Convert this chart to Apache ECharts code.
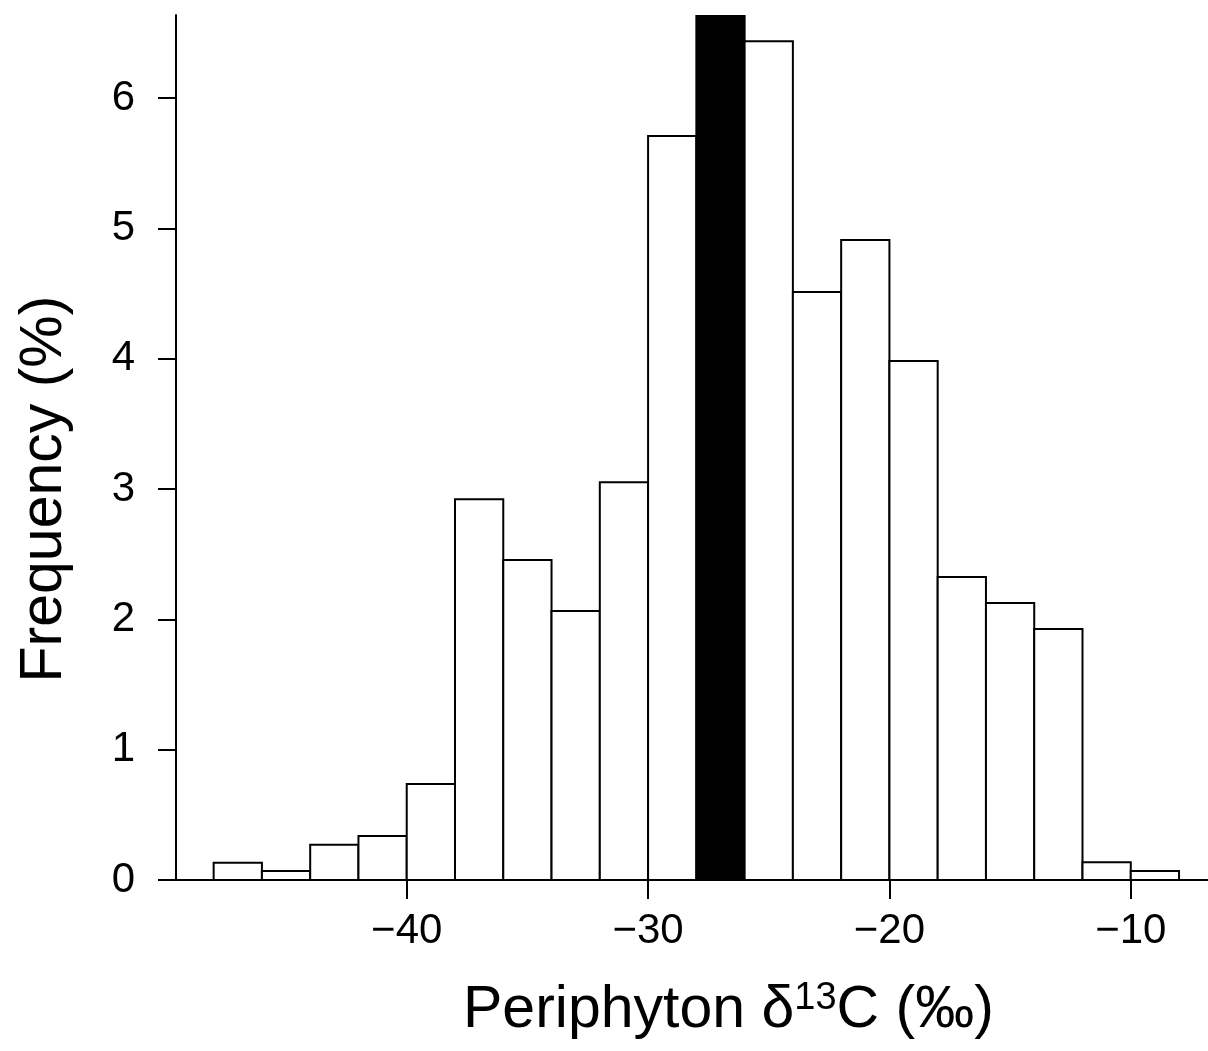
<!DOCTYPE html>
<html>
<head>
<meta charset="utf-8">
<script src="https://cdn.jsdelivr.net/npm/echarts@6/dist/echarts.min.js"></script>
<style>
html,body{margin:0;padding:0;background:#fff;}
#chart{width:1208px;height:1051px;}
</style>
</head>
<body>
<div id="chart"></div>
<script>
// Histogram bins (δ13C, ‰) and frequency (%)
const binStarts = [-48,-46,-44,-42,-40,-38,-36,-34,-32,-30,-28,-26,-24,-22,-20,-18,-16,-14,-12,-10];
const binWidth = 2;
const frequency = [0.133,0.069,0.271,0.338,0.737,2.921,2.455,2.064,3.052,5.709,6.9,6.435,4.512,4.911,3.982,2.325,2.125,1.926,0.136,0.069];
const highlightBin = -28;
const xTicks = [-40,-30,-20,-10];
const yTicks = [0,1,2,3,4,5,6];

const data = binStarts.map((s,i)=>[s, s+binWidth, frequency[i]]);
const FONT = '"Liberation Sans", Arial, Helvetica, sans-serif';

const chart = echarts.init(document.getElementById('chart'), null, {renderer:'canvas'});
chart.setOption({
  animation:false,
  backgroundColor:'#fff',
  grid:{left:176, top:15, width:1032, height:865, containLabel:false},
  xAxis:{
    type:'value', min:-49.56, max:-6.8,
    axisLine:{show:true, lineStyle:{color:'#000', width:2}},
    axisTick:{show:true, length:19, lineStyle:{color:'#000', width:2}, customValues:xTicks},
    axisLabel:{show:true, customValues:xTicks, margin:30, color:'#000', fontSize:42, fontFamily:FONT,
      formatter:v=> (v<0?'\u2212':'') + Math.abs(v)},
    splitLine:{show:false}
  },
  yAxis:{
    type:'value', min:0, max:6.637,
    axisLine:{show:true, onZero:false, lineStyle:{color:'#000', width:2}},
    axisTick:{show:true, length:18, lineStyle:{color:'#000', width:2}, customValues:yTicks},
    axisLabel:{show:true, customValues:yTicks, margin:41, color:'#000', fontSize:42, fontFamily:FONT},
    splitLine:{show:false}
  },
  series:[{
    type:'custom',
    clip:true,
    data:data,
    encode:{x:[0,1], y:2},
    renderItem:function(params, api){
      const s = api.value(0), e = api.value(1), v = api.value(2);
      const p0 = api.coord([s, 0]);
      const p1 = api.coord([e, v]);
      const rect = echarts.graphic.clipRectByRect(
        {x:p0[0], y:p1[1], width:p1[0]-p0[0], height:p0[1]-p1[1]},
        {x:params.coordSys.x, y:params.coordSys.y, width:params.coordSys.width, height:params.coordSys.height}
      );
      if(!rect) return;
      const hl = (s === highlightBin);
      return {
        type:'rect',
        shape:rect,
        style:{fill: hl ? '#000' : '#fff', stroke:'#000', lineWidth:2}
      };
    }
  }],
  graphic:[
    {
      type:'text', left:463, top:980,
      style:{
        text:'Periphyton δ{sup|13}C (‰)',
        font:'59px ' + FONT, fill:'#000',
        rich:{sup:{fontSize:38, fontFamily:FONT, verticalAlign:'top', padding:[0,0,24,0], fill:'#000'}}
      }
    },
    {
      type:'text', x:45, y:489, rotation:Math.PI/2,
      style:{text:'Frequency (%)', font:'59px ' + FONT, fill:'#000', align:'center', verticalAlign:'middle'}
    }
  ]
});
</script>
</body>
</html>
